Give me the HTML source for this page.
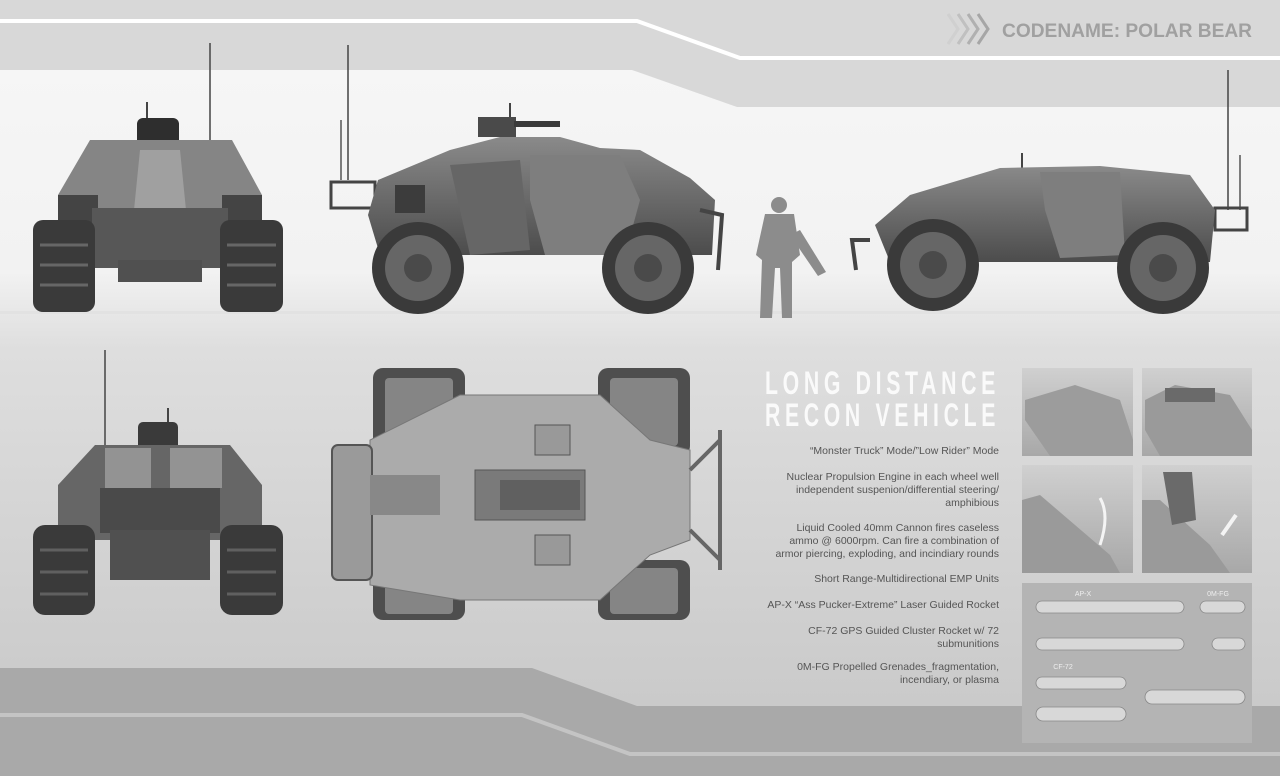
<!DOCTYPE html>
<html><head><meta charset="utf-8"><style>
html,body{margin:0;padding:0;width:1280px;height:776px;overflow:hidden;background:#e6e6e6}
svg{display:block}
</style></head><body>
<svg width="1280" height="776" viewBox="0 0 1280 776" xmlns="http://www.w3.org/2000/svg" font-family="Liberation Sans, sans-serif">
<defs>
<linearGradient id="bg" x1="0" y1="0" x2="0" y2="1">
<stop offset="0" stop-color="#f7f7f7"/><stop offset="0.35" stop-color="#f2f2f2"/><stop offset="0.45" stop-color="#dedede"/><stop offset="1" stop-color="#c6c6c6"/>
</linearGradient>
<linearGradient id="body" x1="0" y1="0" x2="0" y2="1"><stop offset="0" stop-color="#8a8a8a"/><stop offset="1" stop-color="#4c4c4c"/></linearGradient>
<linearGradient id="thumb" x1="0" y1="0" x2="0" y2="1"><stop offset="0" stop-color="#d0d0d0"/><stop offset="1" stop-color="#a8a8a8"/></linearGradient>
</defs>
<rect width="1280" height="776" fill="url(#bg)"/>
<polygon points="0,0 1280,0 1280,107 737,107 632,70 0,70" fill="#d8d8d8"/>
<polyline points="0,21 637,21 740,58 1280,58" fill="none" stroke="#fff" stroke-width="4"/>
<polygon points="0,668 532,668 637,706 1280,706 1280,776 0,776" fill="#a9a9a9"/>
<polyline points="0,715 522,715 630,754 1280,754" fill="none" stroke="#c4c4c4" stroke-width="4"/>
<g fill="none" stroke-width="3">
<polyline points="948,14 958,29 948,44" stroke="#d0d0d0"/>
<polyline points="958,14 968,29 958,44" stroke="#c0c0c0"/>
<polyline points="968,14 978,29 968,44" stroke="#b0b0b0"/>
<polyline points="978,14 988,29 978,44" stroke="#a6a6a6"/>
</g>
<text x="1252" y="37" text-anchor="end" font-size="19" font-weight="bold" fill="#a0a0a0" textLength="250" lengthAdjust="spacingAndGlyphs">CODENAME: POLAR BEAR</text>
<rect x="0" y="311" width="1280" height="3" fill="#e2e2e2"/>

<g>
<line x1="210" y1="43" x2="210" y2="150" stroke="#444" stroke-width="1.5"/>
<line x1="147" y1="102" x2="147" y2="120" stroke="#444" stroke-width="2"/>
<rect x="137" y="118" width="42" height="30" rx="6" fill="#2e2e2e"/>
<polygon points="90,140 232,140 262,195 262,240 58,240 58,195" fill="#858585"/>
<polygon points="140,150 180,150 188,230 132,230" fill="#a0a0a0"/>
<rect x="58" y="195" width="40" height="60" fill="#444"/>
<rect x="222" y="195" width="40" height="60" fill="#444"/>
<rect x="92" y="208" width="136" height="60" fill="#575757"/>
<rect x="118" y="260" width="84" height="22" fill="#505050"/>
<rect x="33" y="220" width="62" height="92" rx="10" fill="#3a3a3a"/>
<rect x="220" y="220" width="63" height="92" rx="10" fill="#3a3a3a"/>
<g stroke="#666" stroke-width="3"><line x1="40" y1="245" x2="88" y2="245"/><line x1="40" y1="265" x2="88" y2="265"/><line x1="40" y1="285" x2="88" y2="285"/><line x1="227" y1="245" x2="276" y2="245"/><line x1="227" y1="265" x2="276" y2="265"/><line x1="227" y1="285" x2="276" y2="285"/></g>
</g>

<g>
<line x1="348" y1="45" x2="348" y2="180" stroke="#444" stroke-width="1.5"/>
<line x1="341" y1="120" x2="341" y2="180" stroke="#555" stroke-width="1.5"/>
<rect x="331" y="182" width="44" height="26" fill="none" stroke="#444" stroke-width="3"/>
<line x1="510" y1="103" x2="510" y2="118" stroke="#444" stroke-width="2"/>
<rect x="478" y="117" width="38" height="20" fill="#4a4a4a"/>
<rect x="514" y="121" width="46" height="6" fill="#3a3a3a"/>
<polygon points="500,137 560,137 600,148 640,150 690,178 715,200 712,255 380,255 368,215 378,180 450,150" fill="url(#body)"/>
<polygon points="530,155 620,155 640,200 625,255 545,255 530,200" fill="#7e7e7e"/>
<polygon points="450,165 520,160 530,250 470,255" fill="#666"/>
<rect x="395" y="185" width="30" height="28" fill="#3c3c3c"/>
<circle cx="418" cy="268" r="46" fill="#3a3a3a"/><circle cx="418" cy="268" r="33" fill="#666"/><circle cx="418" cy="268" r="14" fill="#4a4a4a"/>
<circle cx="648" cy="268" r="46" fill="#3a3a3a"/><circle cx="648" cy="268" r="33" fill="#666"/><circle cx="648" cy="268" r="14" fill="#4a4a4a"/>
<path d="M700,210 L722,215 L718,270" fill="none" stroke="#444" stroke-width="4"/>
</g>

<g fill="#8c8c8c">
<circle cx="779" cy="205" r="8"/>
<polygon points="765,214 794,214 800,255 792,262 792,318 782,318 780,268 775,268 772,318 760,318 762,260 756,255"/>
<polygon points="790,235 800,230 826,272 818,276"/>
</g>

<g>
<line x1="1228" y1="70" x2="1228" y2="210" stroke="#444" stroke-width="1.5"/>
<line x1="1240" y1="155" x2="1240" y2="210" stroke="#555" stroke-width="1.5"/>
<rect x="1215" y="208" width="32" height="22" fill="none" stroke="#444" stroke-width="3"/>
<line x1="1022" y1="153" x2="1022" y2="168" stroke="#444" stroke-width="2"/>
<polygon points="1000,168 1100,166 1190,175 1215,210 1210,262 890,262 875,225 910,195" fill="url(#body)"/>
<polygon points="1040,172 1120,172 1125,255 1060,258 1045,210" fill="#7e7e7e"/>
<circle cx="933" cy="265" r="46" fill="#3a3a3a"/><circle cx="933" cy="265" r="33" fill="#666"/><circle cx="933" cy="265" r="14" fill="#4a4a4a"/>
<circle cx="1163" cy="268" r="46" fill="#3a3a3a"/><circle cx="1163" cy="268" r="33" fill="#666"/><circle cx="1163" cy="268" r="14" fill="#4a4a4a"/>
<path d="M870,240 L852,240 L856,270" fill="none" stroke="#444" stroke-width="4"/>
</g>

<g>
<line x1="105" y1="350" x2="105" y2="460" stroke="#444" stroke-width="1.5"/>
<line x1="168" y1="408" x2="168" y2="425" stroke="#444" stroke-width="2"/>
<rect x="138" y="422" width="40" height="28" rx="5" fill="#3a3a3a"/>
<polygon points="95,445 230,445 262,485 262,540 58,540 58,485" fill="#666"/>
<rect x="105" y="448" width="46" height="40" fill="#939393"/>
<rect x="170" y="448" width="52" height="40" fill="#939393"/>
<rect x="100" y="488" width="120" height="45" fill="#4a4a4a"/>
<rect x="110" y="530" width="100" height="50" fill="#505050"/>
<rect x="33" y="525" width="62" height="90" rx="12" fill="#3a3a3a"/>
<rect x="220" y="525" width="63" height="90" rx="12" fill="#3a3a3a"/>
<g stroke="#606060" stroke-width="3"><line x1="40" y1="550" x2="88" y2="550"/><line x1="40" y1="572" x2="88" y2="572"/><line x1="40" y1="594" x2="88" y2="594"/><line x1="227" y1="550" x2="276" y2="550"/><line x1="227" y1="572" x2="276" y2="572"/><line x1="227" y1="594" x2="276" y2="594"/></g>
</g>

<g>
<rect x="373" y="368" width="92" height="88" rx="10" fill="#4e4e4e"/>
<rect x="598" y="368" width="92" height="88" rx="10" fill="#4e4e4e"/>
<rect x="373" y="560" width="92" height="60" rx="10" fill="#4e4e4e"/>
<rect x="598" y="560" width="92" height="60" rx="10" fill="#4e4e4e"/>
<g fill="#858585"><rect x="385" y="378" width="68" height="68" rx="4"/><rect x="610" y="378" width="68" height="68" rx="4"/><rect x="385" y="568" width="68" height="46" rx="4"/><rect x="610" y="568" width="68" height="46" rx="4"/></g>
<polygon points="460,395 600,395 650,440 690,450 690,540 650,555 600,600 460,600 370,585 370,440" fill="#ababab" stroke="#777"/>
<rect x="332" y="445" width="40" height="135" rx="6" fill="#9a9a9a" stroke="#555" stroke-width="2"/>
<rect x="370" y="475" width="70" height="40" fill="#888"/>
<rect x="475" y="470" width="110" height="50" fill="#7a7a7a" stroke="#555"/>
<rect x="500" y="480" width="80" height="30" fill="#606060"/>
<rect x="535" y="425" width="35" height="30" fill="#999" stroke="#555"/>
<rect x="535" y="535" width="35" height="30" fill="#999" stroke="#555"/>
<path d="M690,470 L720,440 M690,530 L720,560 M720,430 L720,570" stroke="#666" stroke-width="4" fill="none"/>
</g>

<text x="1000" y="394" text-anchor="end" font-size="32" font-weight="bold" fill="#fafafa" textLength="235" lengthAdjust="spacingAndGlyphs" letter-spacing="7">LONG DISTANCE</text>
<text x="1000" y="426" text-anchor="end" font-size="32" font-weight="bold" fill="#fafafa" textLength="235" lengthAdjust="spacingAndGlyphs" letter-spacing="7">RECON VEHICLE</text>
<g font-size="10.5" fill="#555" text-anchor="end">
<text x="999" y="454">“Monster Truck” Mode/”Low Rider” Mode</text>
<text x="999" y="480">Nuclear Propulsion Engine in each wheel well</text>
<text x="999" y="493">independent suspenion/differential steering/</text>
<text x="999" y="506">amphibious</text>
<text x="999" y="531">Liquid Cooled 40mm Cannon fires caseless</text>
<text x="999" y="544">ammo @ 6000rpm. Can fire a combination of</text>
<text x="999" y="557">armor piercing, exploding, and incindiary rounds</text>
<text x="999" y="582">Short Range-Multidirectional EMP Units</text>
<text x="999" y="608">AP-X “Ass Pucker-Extreme” Laser Guided Rocket</text>
<text x="999" y="634">CF-72 GPS Guided Cluster Rocket w/ 72</text>
<text x="999" y="647">submunitions</text>
<text x="999" y="670">0M-FG Propelled Grenades_fragmentation,</text>
<text x="999" y="683">incendiary, or plasma</text>
</g>

<rect x="1022" y="368" width="111" height="88" fill="url(#thumb)"/>
<polygon points="1025,400 1075,385 1120,400 1133,440 1133,456 1050,456 1025,420" fill="#9c9c9c"/>
<rect x="1142" y="368" width="110" height="88" fill="url(#thumb)"/>
<polygon points="1145,400 1175,385 1230,395 1252,430 1252,456 1160,456 1145,430" fill="#9a9a9a"/>
<rect x="1165" y="388" width="50" height="14" fill="#6a6a6a"/>
<rect x="1022" y="465" width="111" height="108" fill="url(#thumb)"/>
<polygon points="1022,500 1040,495 1110,555 1120,573 1022,573" fill="#9a9a9a"/>
<path d="M1100,545 Q1110,515 1100,498" fill="none" stroke="#f4f4f4" stroke-width="3"/>
<rect x="1142" y="465" width="110" height="108" fill="url(#thumb)"/>
<polygon points="1142,500 1160,500 1210,545 1230,573 1142,573" fill="#9a9a9a"/>
<polygon points="1163,472 1192,472 1196,520 1172,525" fill="#6a6a6a"/>
<line x1="1222" y1="535" x2="1236" y2="515" stroke="#f4f4f4" stroke-width="4"/>
<rect x="1022" y="583" width="230" height="160" fill="#b4b4b4"/>
<g fill="#d8d8d8" stroke="#888" stroke-width="0.8">
<rect x="1036" y="601" width="148" height="12" rx="6"/>
<rect x="1200" y="601" width="45" height="12" rx="6"/>
<rect x="1036" y="638" width="148" height="12" rx="6"/>
<rect x="1212" y="638" width="33" height="12" rx="6"/>
<rect x="1036" y="677" width="90" height="12" rx="6"/>
<rect x="1036" y="707" width="90" height="14" rx="7"/>
<rect x="1145" y="690" width="100" height="14" rx="7"/>
</g>
<g fill="#eee" font-size="7" text-anchor="middle"><text x="1083" y="596">AP-X</text><text x="1218" y="596">0M-FG</text><text x="1063" y="669">CF-72</text></g>
</svg>
</body></html>
